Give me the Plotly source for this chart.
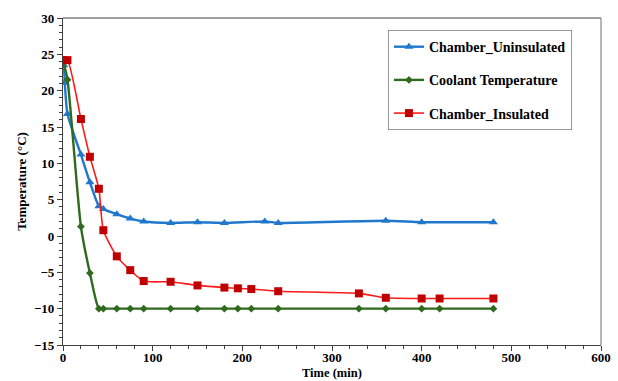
import plotly.graph_objects as go

time_uninsulated = [0, 1, 2, 5, 20, 30, 40, 45, 60, 75, 90, 120, 150, 180, 225, 240, 360, 400, 480]
temp_uninsulated = [24.2, 23.5, 21.1, 16.8, 11.2, 7.4, 4.1, 3.7, 3.0, 2.4, 2.0, 1.8, 1.9, 1.8, 2.0, 1.8, 2.1, 1.9, 1.9]

time_coolant = [0, 5, 20, 30, 40, 45, 60, 75, 90, 120, 150, 180, 195, 210, 240, 330, 360, 400, 420, 480]
temp_coolant = [24.2, 21.5, 1.3, -5.1, -10, -10, -10, -10, -10, -10, -10, -10, -10, -10, -10, -10, -10, -10, -10, -10]

time_insulated = [0, 5, 20, 30, 40, 45, 60, 75, 90, 120, 150, 180, 195, 210, 240, 330, 360, 400, 420, 480]
temp_insulated = [24.2, 24.2, 16.1, 10.9, 6.5, 0.8, -2.8, -4.7, -6.2, -6.3, -6.8, -7.1, -7.2, -7.3, -7.6, -7.9, -8.5, -8.6, -8.6, -8.6]

FONT = "'Liberation Serif', 'Times New Roman', Times, serif"

fig = go.Figure()
fig.add_trace(go.Scatter(
    x=time_uninsulated, y=temp_uninsulated, name="Chamber_Uninsulated",
    mode="lines+markers", legendgroup="a",
    line=dict(color="#1f78cc", width=2.4, shape="spline", smoothing=0.6),
    marker=dict(symbol="triangle-up", size=8, color="#1f78cc")))
fig.add_trace(go.Scatter(
    x=time_coolant, y=temp_coolant, name="Coolant Temperature",
    mode="lines+markers", legendgroup="b",
    line=dict(color="#2f6a1f", width=2.4, shape="spline", smoothing=0.6),
    marker=dict(symbol="diamond", size=6, color="#2f6a1f")))
fig.add_trace(go.Scatter(
    x=time_insulated, y=temp_insulated, name="Chamber_Insulated",
    mode="lines+markers", legendgroup="c",
    line=dict(color="#ff1a1a", width=1.6, shape="spline", smoothing=0.6),
    marker=dict(symbol="square", size=8, color="#c00000")))

axis_common = dict(
    showline=True, linecolor="#404040", linewidth=1.2, mirror=False,
    ticks="outside", ticklen=5, tickcolor="#404040", showgrid=False, zeroline=False,
    automargin=False,
    tickfont=dict(family=FONT, size=13, color="#000000", weight="bold"),
)

fig.update_xaxes(range=[0, 600], dtick=100, tick0=0, ticklabelstandoff=-5,
                 minor=dict(dtick=20, ticks="outside", ticklen=3, tickcolor="#404040"),
                 **axis_common)
fig.update_yaxes(range=[-15, 30], dtick=5, tick0=0,
                 minor=dict(dtick=1, ticks="outside", ticklen=3, tickcolor="#404040"),
                 title=dict(text="Temperature (°C)", font=dict(family=FONT, size=13, color="#000", weight="bold"), standoff=4),
                 **axis_common)

# x axis title placed close to tick labels, as in the original
fig.add_annotation(text="Time (min)", xref="paper", yref="paper", x=0.5, y=0,
                   yshift=-36, borderpad=0,
                   xanchor="center", yanchor="bottom", showarrow=False,
                   font=dict(family=FONT, size=12.5, color="#000", weight="bold"))

# top and right border of plot area
fig.add_shape(type="line", xref="paper", yref="paper", x0=0, x1=1, y0=1, y1=1,
              line=dict(color="#404040", width=1.2))
fig.add_shape(type="line", xref="paper", yref="paper", x0=1, x1=1, y0=0, y1=1,
              line=dict(color="#888888", width=1.2))

fig.update_layout(
    width=618, height=381,
    margin=dict(l=63, r=17, t=18, b=36, autoexpand=False),
    paper_bgcolor="white", plot_bgcolor="white",
    showlegend=True,
    legend=dict(x=0.604, y=0.963, xanchor="left", yanchor="top",
                bordercolor="#999999", borderwidth=1, bgcolor="white",
                font=dict(family=FONT, size=14, color="#000", weight="bold"),
                tracegroupgap=12, itemwidth=30, traceorder="grouped"),
)

fig.write_html("out.html", config={"displayModeBar": False},
               post_script="document.body.style.margin='0';document.body.style.overflow='hidden';")
